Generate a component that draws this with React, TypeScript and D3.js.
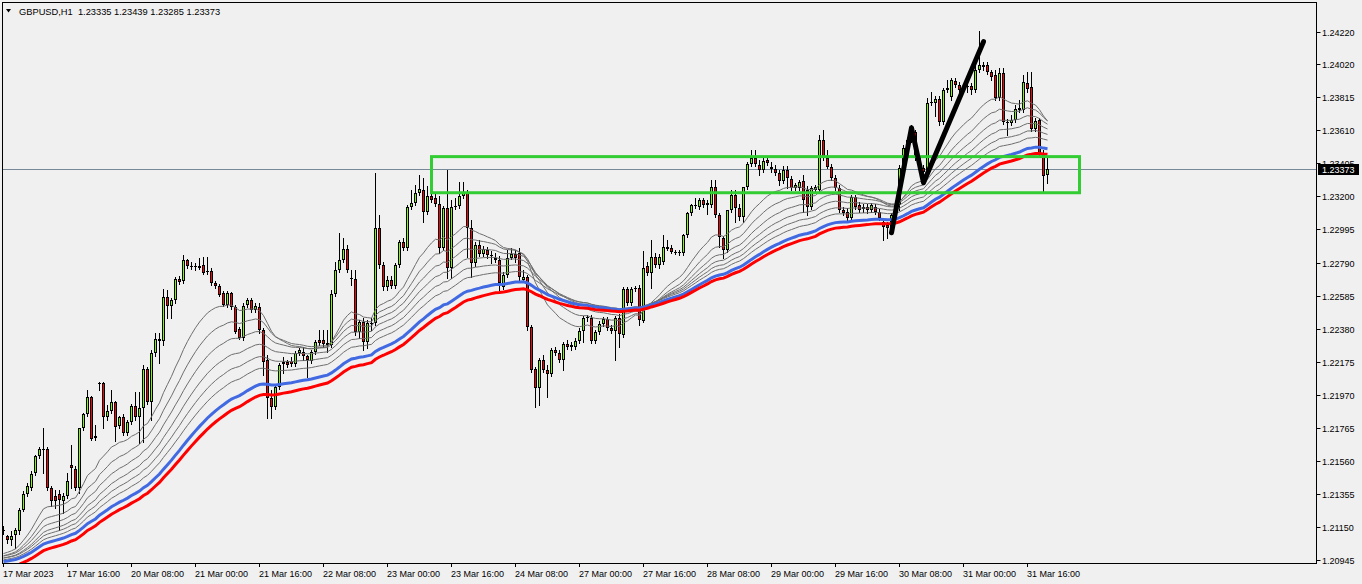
import React from 'react';
import * as d3 from 'd3';

const headerText = 'GBPUSD,H1  1.23335 1.23439 1.23285 1.23373';

const timeLabels = [
  '17 Mar 2023', '17 Mar 16:00', '20 Mar 08:00', '21 Mar 00:00', '21 Mar 16:00',
  '22 Mar 08:00', '23 Mar 00:00', '23 Mar 16:00', '24 Mar 08:00', '27 Mar 00:00',
  '27 Mar 16:00', '28 Mar 08:00', '29 Mar 00:00', '29 Mar 16:00', '30 Mar 08:00',
  '31 Mar 00:00', '31 Mar 16:00',
];
const barsPerLabel = 16;

const priceTicks = [
  1.2422, 1.2402, 1.23815, 1.2361, 1.23405, 1.232, 1.22995, 1.2279, 1.22585,
  1.2238, 1.22175, 1.2197, 1.21765, 1.2156, 1.21355, 1.2115, 1.20945,
];
const lastPrice = 1.23373;

// H1 bars: [open, high, low, close]
const ohlc: [number, number, number, number][] = [
  [1.21134, 1.21153, 1.21109, 1.21128], [1.21091, 1.21103, 1.21053, 1.21066], [1.21066, 1.21122, 1.21041, 1.21091],
  [1.21103, 1.21146, 1.21022, 1.21128], [1.21122, 1.2127, 1.21109, 1.21258], [1.21258, 1.2137, 1.21246, 1.21357],
  [1.21357, 1.21425, 1.21345, 1.21401], [1.21394, 1.21494, 1.21382, 1.21481], [1.21487, 1.21599, 1.21475, 1.21593],
  [1.21593, 1.21649, 1.2158, 1.21636], [1.2163, 1.21766, 1.21487, 1.21636], [1.21636, 1.21649, 1.21382, 1.21394],
  [1.21394, 1.21407, 1.21283, 1.21308], [1.21345, 1.21382, 1.2127, 1.21308], [1.21357, 1.21382, 1.21134, 1.2132],
  [1.21308, 1.21363, 1.21239, 1.21345], [1.21345, 1.21487, 1.21332, 1.21432], [1.21537, 1.21661, 1.21394, 1.21518],
  [1.21512, 1.21531, 1.21382, 1.21394], [1.21394, 1.21766, 1.21363, 1.21766], [1.21766, 1.21859, 1.21754, 1.21853],
  [1.21853, 1.22002, 1.21841, 1.21959], [1.21959, 1.21965, 1.21692, 1.21698], [1.21704, 1.21785, 1.21692, 1.21717],
  [1.22039, 1.22052, 1.22002, 1.22045], [1.22045, 1.22052, 1.21766, 1.21835], [1.21835, 1.21909, 1.21816, 1.21872],
  [1.21872, 1.22002, 1.21859, 1.21928], [1.21928, 1.21934, 1.21686, 1.21773], [1.21779, 1.21841, 1.21766, 1.21835],
  [1.21835, 1.21853, 1.21723, 1.21735], [1.21735, 1.21816, 1.21723, 1.21804], [1.21804, 1.21915, 1.21791, 1.21903],
  [1.21903, 1.2199, 1.21816, 1.21835], [1.21835, 1.2199, 1.21673, 1.2189], [1.2189, 1.22157, 1.2168, 1.22132],
  [1.22132, 1.22145, 1.21915, 1.21928], [1.21928, 1.2225, 1.21816, 1.22231], [1.22231, 1.22355, 1.22213, 1.22318],
  [1.22318, 1.22355, 1.22169, 1.22306], [1.22306, 1.22628, 1.22281, 1.22579], [1.22579, 1.22622, 1.22448, 1.22523],
  [1.22523, 1.22572, 1.22448, 1.2256], [1.2256, 1.22703, 1.22541, 1.2269], [1.2269, 1.22709, 1.22659, 1.22672],
  [1.22678, 1.22839, 1.22665, 1.22808], [1.22808, 1.22814, 1.22758, 1.22771], [1.22771, 1.22796, 1.22752, 1.22765],
  [1.22765, 1.22789, 1.22746, 1.22771], [1.22771, 1.2282, 1.22752, 1.22758], [1.22777, 1.22827, 1.22721, 1.22727],
  [1.22734, 1.22827, 1.22721, 1.2274], [1.2274, 1.22758, 1.22653, 1.22665], [1.22665, 1.22678, 1.22634, 1.22647],
  [1.22647, 1.22659, 1.22585, 1.22591], [1.22603, 1.22616, 1.22523, 1.22529], [1.22529, 1.22616, 1.22517, 1.22603],
  [1.22603, 1.2261, 1.22504, 1.22517], [1.22517, 1.22529, 1.22355, 1.22362], [1.2238, 1.22393, 1.22318, 1.22324],
  [1.22324, 1.22541, 1.22312, 1.22523], [1.22529, 1.22572, 1.22517, 1.2256], [1.2256, 1.22572, 1.22486, 1.22498],
  [1.22498, 1.22541, 1.22486, 1.22523], [1.22517, 1.22541, 1.22355, 1.22374], [1.22374, 1.22386, 1.22095, 1.22176],
  [1.22188, 1.22219, 1.21828, 1.21952], [1.21952, 1.22002, 1.21828, 1.21897], [1.21897, 1.22033, 1.21884, 1.22021],
  [1.22021, 1.22169, 1.22008, 1.22157], [1.22163, 1.22207, 1.22107, 1.22176], [1.22176, 1.22188, 1.22145, 1.22157],
  [1.22182, 1.22207, 1.22151, 1.22163], [1.22163, 1.22244, 1.22151, 1.22231], [1.22231, 1.22262, 1.22219, 1.2225],
  [1.22238, 1.22269, 1.22188, 1.22213], [1.22213, 1.22219, 1.22083, 1.22188], [1.22182, 1.2225, 1.22169, 1.22238],
  [1.22238, 1.22312, 1.22225, 1.223], [1.22312, 1.22374, 1.22281, 1.22293], [1.22312, 1.22374, 1.22269, 1.22287],
  [1.22281, 1.22374, 1.22238, 1.22293], [1.22281, 1.22622, 1.22269, 1.22597], [1.22597, 1.22796, 1.22585, 1.22746],
  [1.22746, 1.22975, 1.22734, 1.22808], [1.22808, 1.22944, 1.22796, 1.22876], [1.22876, 1.22901, 1.22734, 1.22746],
  [1.22696, 1.22746, 1.22653, 1.2269], [1.2269, 1.22746, 1.22343, 1.22362], [1.22362, 1.22436, 1.22324, 1.22424],
  [1.22424, 1.22448, 1.2225, 1.223], [1.223, 1.22436, 1.22262, 1.22417], [1.22417, 1.22448, 1.22374, 1.22411],
  [1.22417, 1.23347, 1.22405, 1.23006], [1.23006, 1.23087, 1.22758, 1.22777], [1.22777, 1.22796, 1.22622, 1.22641],
  [1.22641, 1.22709, 1.22622, 1.22684], [1.22684, 1.22709, 1.22634, 1.22647], [1.22647, 1.22789, 1.22634, 1.22777],
  [1.22777, 1.22932, 1.22765, 1.2292], [1.2292, 1.22944, 1.2287, 1.22882], [1.22882, 1.23149, 1.2287, 1.23137],
  [1.23137, 1.23242, 1.23124, 1.23161], [1.23161, 1.23273, 1.23149, 1.23223], [1.23223, 1.23335, 1.23211, 1.23248],
  [1.23242, 1.23316, 1.23044, 1.23106], [1.23106, 1.23267, 1.23093, 1.23205], [1.23205, 1.23378, 1.23168, 1.2318],
  [1.23192, 1.23217, 1.23143, 1.23155], [1.23155, 1.23205, 1.22851, 1.22882], [1.22882, 1.23143, 1.2287, 1.2313],
  [1.2313, 1.23366, 1.22696, 1.22758], [1.22758, 1.2318, 1.22696, 1.23137], [1.23137, 1.23192, 1.23124, 1.23143],
  [1.23143, 1.23292, 1.2313, 1.23205], [1.23205, 1.23292, 1.23192, 1.23223], [1.23223, 1.23242, 1.22827, 1.23006],
  [1.23006, 1.23056, 1.22703, 1.22789], [1.22789, 1.2292, 1.22771, 1.22901], [1.22901, 1.22932, 1.22833, 1.22845],
  [1.22845, 1.22895, 1.22833, 1.22876], [1.2287, 1.22889, 1.2282, 1.22839], [1.22833, 1.22864, 1.22789, 1.22839],
  [1.2282, 1.22851, 1.22796, 1.22808], [1.22808, 1.22833, 1.22622, 1.22665], [1.22641, 1.22734, 1.22628, 1.22715],
  [1.22715, 1.2287, 1.22703, 1.2282], [1.2282, 1.22882, 1.22814, 1.22845], [1.22845, 1.2287, 1.22796, 1.2282],
  [1.22851, 1.22882, 1.22684, 1.22703], [1.22684, 1.22746, 1.22672, 1.22703], [1.22703, 1.22715, 1.22374, 1.22393],
  [1.22393, 1.22405, 1.22114, 1.22126], [1.22132, 1.22145, 1.21897, 1.22014], [1.22014, 1.222, 1.21909, 1.22188],
  [1.22188, 1.22219, 1.22114, 1.22126], [1.22126, 1.22157, 1.21959, 1.22101], [1.22101, 1.22262, 1.22089, 1.2225],
  [1.2225, 1.22269, 1.22219, 1.22231], [1.22231, 1.2225, 1.22176, 1.22188], [1.22188, 1.223, 1.22126, 1.22287],
  [1.22287, 1.22312, 1.22256, 1.22269], [1.22269, 1.223, 1.2225, 1.22281], [1.22269, 1.22324, 1.22256, 1.22306],
  [1.22306, 1.22386, 1.22293, 1.22368], [1.22368, 1.22461, 1.223, 1.22448], [1.22448, 1.22467, 1.2243, 1.22455],
  [1.22448, 1.22467, 1.22293, 1.22306], [1.22306, 1.22374, 1.22293, 1.22362], [1.22362, 1.2243, 1.22349, 1.22411],
  [1.22411, 1.22455, 1.22399, 1.22442], [1.22442, 1.22455, 1.22374, 1.22386], [1.22386, 1.22405, 1.22355, 1.22368],
  [1.22368, 1.22461, 1.22188, 1.22448], [1.22448, 1.22473, 1.22269, 1.22349], [1.22343, 1.22641, 1.22331, 1.22628],
  [1.22628, 1.22641, 1.22529, 1.22541], [1.22541, 1.22641, 1.22529, 1.22628], [1.22628, 1.22647, 1.22616, 1.22634],
  [1.22634, 1.22653, 1.22405, 1.22436], [1.2243, 1.22864, 1.22424, 1.22758], [1.22771, 1.22796, 1.22715, 1.22727],
  [1.22727, 1.22932, 1.22634, 1.22827], [1.22827, 1.22851, 1.22765, 1.22777], [1.22777, 1.22845, 1.22758, 1.22827],
  [1.22796, 1.22963, 1.22783, 1.22889], [1.22889, 1.22932, 1.2287, 1.22876], [1.22882, 1.22901, 1.22851, 1.22858],
  [1.22858, 1.2287, 1.22845, 1.22851], [1.22851, 1.2287, 1.22839, 1.22858], [1.22851, 1.22969, 1.22839, 1.22963],
  [1.22963, 1.23106, 1.22951, 1.23099], [1.23099, 1.23155, 1.23087, 1.23149], [1.23143, 1.23192, 1.2313, 1.23149],
  [1.23137, 1.23192, 1.23124, 1.2318], [1.2318, 1.23192, 1.23137, 1.23149], [1.23161, 1.2318, 1.23093, 1.23149],
  [1.23149, 1.23304, 1.23137, 1.23261], [1.23261, 1.23304, 1.23075, 1.23087], [1.23087, 1.23099, 1.22889, 1.22951],
  [1.22944, 1.22957, 1.2282, 1.2287], [1.2287, 1.23118, 1.22858, 1.23118], [1.23118, 1.23242, 1.23106, 1.23211],
  [1.23211, 1.23242, 1.23044, 1.2313], [1.2313, 1.23155, 1.23056, 1.23075], [1.23075, 1.23261, 1.23044, 1.23261],
  [1.23261, 1.23416, 1.23248, 1.23403], [1.23403, 1.2349, 1.23391, 1.2344], [1.2344, 1.2349, 1.23391, 1.23403],
  [1.23397, 1.23428, 1.23335, 1.23366], [1.23366, 1.2344, 1.23354, 1.23422], [1.23428, 1.23447, 1.23397, 1.23409],
  [1.23385, 1.23416, 1.23354, 1.23372], [1.23372, 1.23397, 1.23335, 1.23347], [1.23347, 1.23366, 1.23273, 1.23298],
  [1.23298, 1.23391, 1.23285, 1.23366], [1.23366, 1.23391, 1.23254, 1.23316], [1.2331, 1.23329, 1.23242, 1.23254],
  [1.23254, 1.23285, 1.23242, 1.23273], [1.23254, 1.23304, 1.23242, 1.23292], [1.23298, 1.23335, 1.23106, 1.2318],
  [1.23242, 1.23267, 1.23087, 1.23137], [1.23137, 1.23267, 1.23124, 1.23254], [1.23242, 1.23273, 1.2323, 1.23261],
  [1.23242, 1.23583, 1.2323, 1.23552], [1.23552, 1.23614, 1.23428, 1.2344], [1.2344, 1.2349, 1.23378, 1.23385],
  [1.23385, 1.23403, 1.23304, 1.23316], [1.23316, 1.23335, 1.23242, 1.23254], [1.23254, 1.23273, 1.23106, 1.23118],
  [1.23118, 1.23137, 1.23087, 1.23099], [1.23106, 1.2313, 1.23056, 1.23068], [1.23068, 1.23211, 1.23056, 1.23199],
  [1.23199, 1.23211, 1.23124, 1.23137], [1.23149, 1.23168, 1.23106, 1.23118], [1.23137, 1.23155, 1.23106, 1.23124],
  [1.23137, 1.23155, 1.23099, 1.23118], [1.23118, 1.23161, 1.23106, 1.23149], [1.23137, 1.23155, 1.23093, 1.23106],
  [1.23106, 1.23124, 1.23056, 1.23068], [1.23044, 1.23068, 1.22932, 1.23013], [1.23025, 1.23044, 1.22944, 1.23006],
  [1.23006, 1.23099, 1.22969, 1.23087], [1.23087, 1.23168, 1.23068, 1.23149], [1.23149, 1.23397, 1.23118, 1.23378],
  [1.23378, 1.23521, 1.23366, 1.23502], [1.23502, 1.23564, 1.2349, 1.23552], [1.23552, 1.23645, 1.2354, 1.23602],
  [1.23602, 1.23614, 1.23428, 1.2344], [1.2344, 1.23459, 1.23366, 1.23378], [1.23378, 1.23397, 1.23335, 1.23354],
  [1.23366, 1.23812, 1.23354, 1.23781], [1.23781, 1.2385, 1.23769, 1.23788], [1.23781, 1.23825, 1.237, 1.23806],
  [1.23806, 1.23825, 1.23645, 1.23664], [1.23664, 1.23874, 1.23651, 1.23862], [1.23862, 1.23924, 1.2385, 1.23874],
  [1.23819, 1.23936, 1.238, 1.23924], [1.23918, 1.23936, 1.23881, 1.23893], [1.23893, 1.23912, 1.2385, 1.23862],
  [1.23862, 1.23899, 1.23843, 1.23887], [1.23887, 1.23899, 1.2385, 1.23881], [1.23887, 1.23905, 1.23837, 1.23862],
  [1.23862, 1.24011, 1.2385, 1.23986], [1.23986, 1.24228, 1.23974, 1.24017], [1.24017, 1.24036, 1.23986, 1.24005],
  [1.24017, 1.24036, 1.23961, 1.23974], [1.23974, 1.23986, 1.23924, 1.23943], [1.23955, 1.23986, 1.238, 1.23812],
  [1.23812, 1.23998, 1.238, 1.23967], [1.23967, 1.23998, 1.23651, 1.23664], [1.23664, 1.23682, 1.23583, 1.23657],
  [1.23657, 1.23707, 1.23645, 1.23676], [1.23676, 1.23769, 1.23664, 1.23744], [1.2375, 1.238, 1.23726, 1.23738],
  [1.23738, 1.23955, 1.23726, 1.23912], [1.23905, 1.23974, 1.2385, 1.23868], [1.23881, 1.23974, 1.23608, 1.2362],
  [1.2362, 1.23688, 1.23608, 1.2367], [1.23676, 1.23688, 1.23453, 1.23465], [1.23471, 1.2349, 1.23236, 1.23329],
  [1.23335, 1.23439, 1.23285, 1.23373],
];

// moving averages (EMA of close), value at the left edge of the window
const thinPeriods = [20, 28, 36, 44, 52, 60];
const thinStarts = [1.2097, 1.2096, 1.2096, 1.2095, 1.2095, 1.2094];
const bluePeriod = 72;
const blueStart = 1.2093;
const redPeriod = 80;
const redStart = 1.2089;

// drawn objects: [bar index, price]
const zoneCorners: [number, number][] = [[107, 1.23447], [269, 1.23223]];
const zigzagPoints: [number, number][] = [[222, 1.22975], [227, 1.23626], [230, 1.23285], [245, 1.2416]];

const W = 1362;
const H = 584;
const plot = { left: 3, right: 1316, top: 3, bottom: 563 };
const font = '"Liberation Sans", Arial, sans-serif';

function ema(period: number, start: number): number[] {
  const k = 2 / (period + 1);
  let v = start;
  return ohlc.map(d => (v += k * (d[3] - v)));
}

export default function App() {
  const x = d3.scaleLinear().domain([0, 328]).range([3.5, 3.5 + 4 * 328]);
  const y = d3.scaleLinear().domain([1.20945, 1.2422]).range([560, 32]);
  const py = (p: number) => Math.round(y(p));

  const line = d3.line<number>().x((_, i) => x(i)).y(v => y(v));
  const thinPaths = thinPeriods.map((p, i) => line(ema(p, thinStarts[i])) || '');
  const bluePath = line(ema(bluePeriod, blueStart)) || '';
  const redPath = line(ema(redPeriod, redStart)) || '';
  const zigzag = d3.line<[number, number]>().x(d => x(d[0])).y(d => y(d[1]))(zigzagPoints) || '';

  const bidY = py(lastPrice) + 0.5;

  return (
    <div style={{ position: 'fixed', left: 0, top: 0, width: W, height: H, background: '#f0f0f0' }}>
      <svg width={W} height={H} style={{ display: 'block', fontFamily: font }}>
        <defs>
          <clipPath id="plotClip">
            <rect x={plot.left} y={plot.top} width={plot.right - plot.left} height={plot.bottom - plot.top} />
          </clipPath>
        </defs>
        <rect width={W} height={H} fill="#f0f0f0" />

        <g clipPath="url(#plotClip)">
          <line x1={plot.left} x2={plot.right} y1={bidY} y2={bidY} stroke="#778899" strokeWidth={1} />

          {ohlc.map((d, i) => {
            const [o, h, l, c] = d;
            const cx = x(i);
            const top = py(Math.max(o, c));
            const bot = py(Math.min(o, c));
            const up = c >= o;
            return (
              <g key={i}>
                <line x1={cx} x2={cx} y1={py(h)} y2={py(l) + 1} stroke="#000" strokeWidth={1} />
                {bot - top >= 2 ? (
                  <rect x={cx - 1} y={top + 0.5} width={2} height={bot - top - 1}
                    fill={up ? '#7cfc00' : '#ff0000'} stroke="#000" strokeWidth={1} />
                ) : (
                  <line x1={cx - 1.5} x2={cx + 1.5} y1={top + 0.5} y2={top + 0.5} stroke="#000" strokeWidth={1} />
                )}
              </g>
            );
          })}

          {thinPaths.map((p, i) => (
            <path key={i} d={p} fill="none" stroke="#6e6e6e" strokeWidth={1} />
          ))}
          <path d={bluePath} fill="none" stroke="#4169e1" strokeWidth={3} />
          <path d={redPath} fill="none" stroke="#ff0000" strokeWidth={3} />

          <rect x={x(zoneCorners[0][0])} y={y(zoneCorners[0][1])}
            width={x(zoneCorners[1][0]) - x(zoneCorners[0][0])}
            height={y(zoneCorners[1][1]) - y(zoneCorners[0][1])}
            fill="none" stroke="#32cd32" strokeWidth={3} />
          <path d={zigzag} fill="none" stroke="#000" strokeWidth={5} strokeLinecap="round" strokeLinejoin="round" />
        </g>

        {/* frame */}
        <rect x={plot.left - 0.5} y={plot.top - 0.5} width={plot.right - plot.left + 1} height={plot.bottom - plot.top + 1}
          fill="none" stroke="#000" strokeWidth={1} />

        {/* header */}
        <path d="M6,9 L11,9 L8.5,12.5 Z" fill="#000" />
        <text x={19} y={14.5} fontSize={9.3} fill="#000" style={{ whiteSpace: 'pre' }}>{headerText}</text>

        {/* price axis */}
        {priceTicks.map(t => {
          const ty = py(t) + 0.5;
          return (
            <g key={t}>
              <line x1={plot.right + 0.5} x2={plot.right + 4.5} y1={ty} y2={ty} stroke="#000" />
              <text x={1322} y={ty + 3.5} fontSize={9} fill="#000">{t.toFixed(5)}</text>
            </g>
          );
        })}
        <rect x={1318} y={bidY - 5.5} width={41} height={11} fill="#000" />
        <text x={1322} y={bidY + 3.5} fontSize={9} fill="#fff">{lastPrice.toFixed(5)}</text>

        {/* time axis */}
        {timeLabels.map((lab, k) => {
          const tx = Math.floor(x(k * barsPerLabel));
          return (
            <g key={lab}>
              <line x1={tx + 0.5} x2={tx + 0.5} y1={plot.bottom} y2={plot.bottom + 4} stroke="#000" />
              <text x={tx} y={576.5} fontSize={9} fill="#000">{lab}</text>
            </g>
          );
        })}
      </svg>
    </div>
  );
}
